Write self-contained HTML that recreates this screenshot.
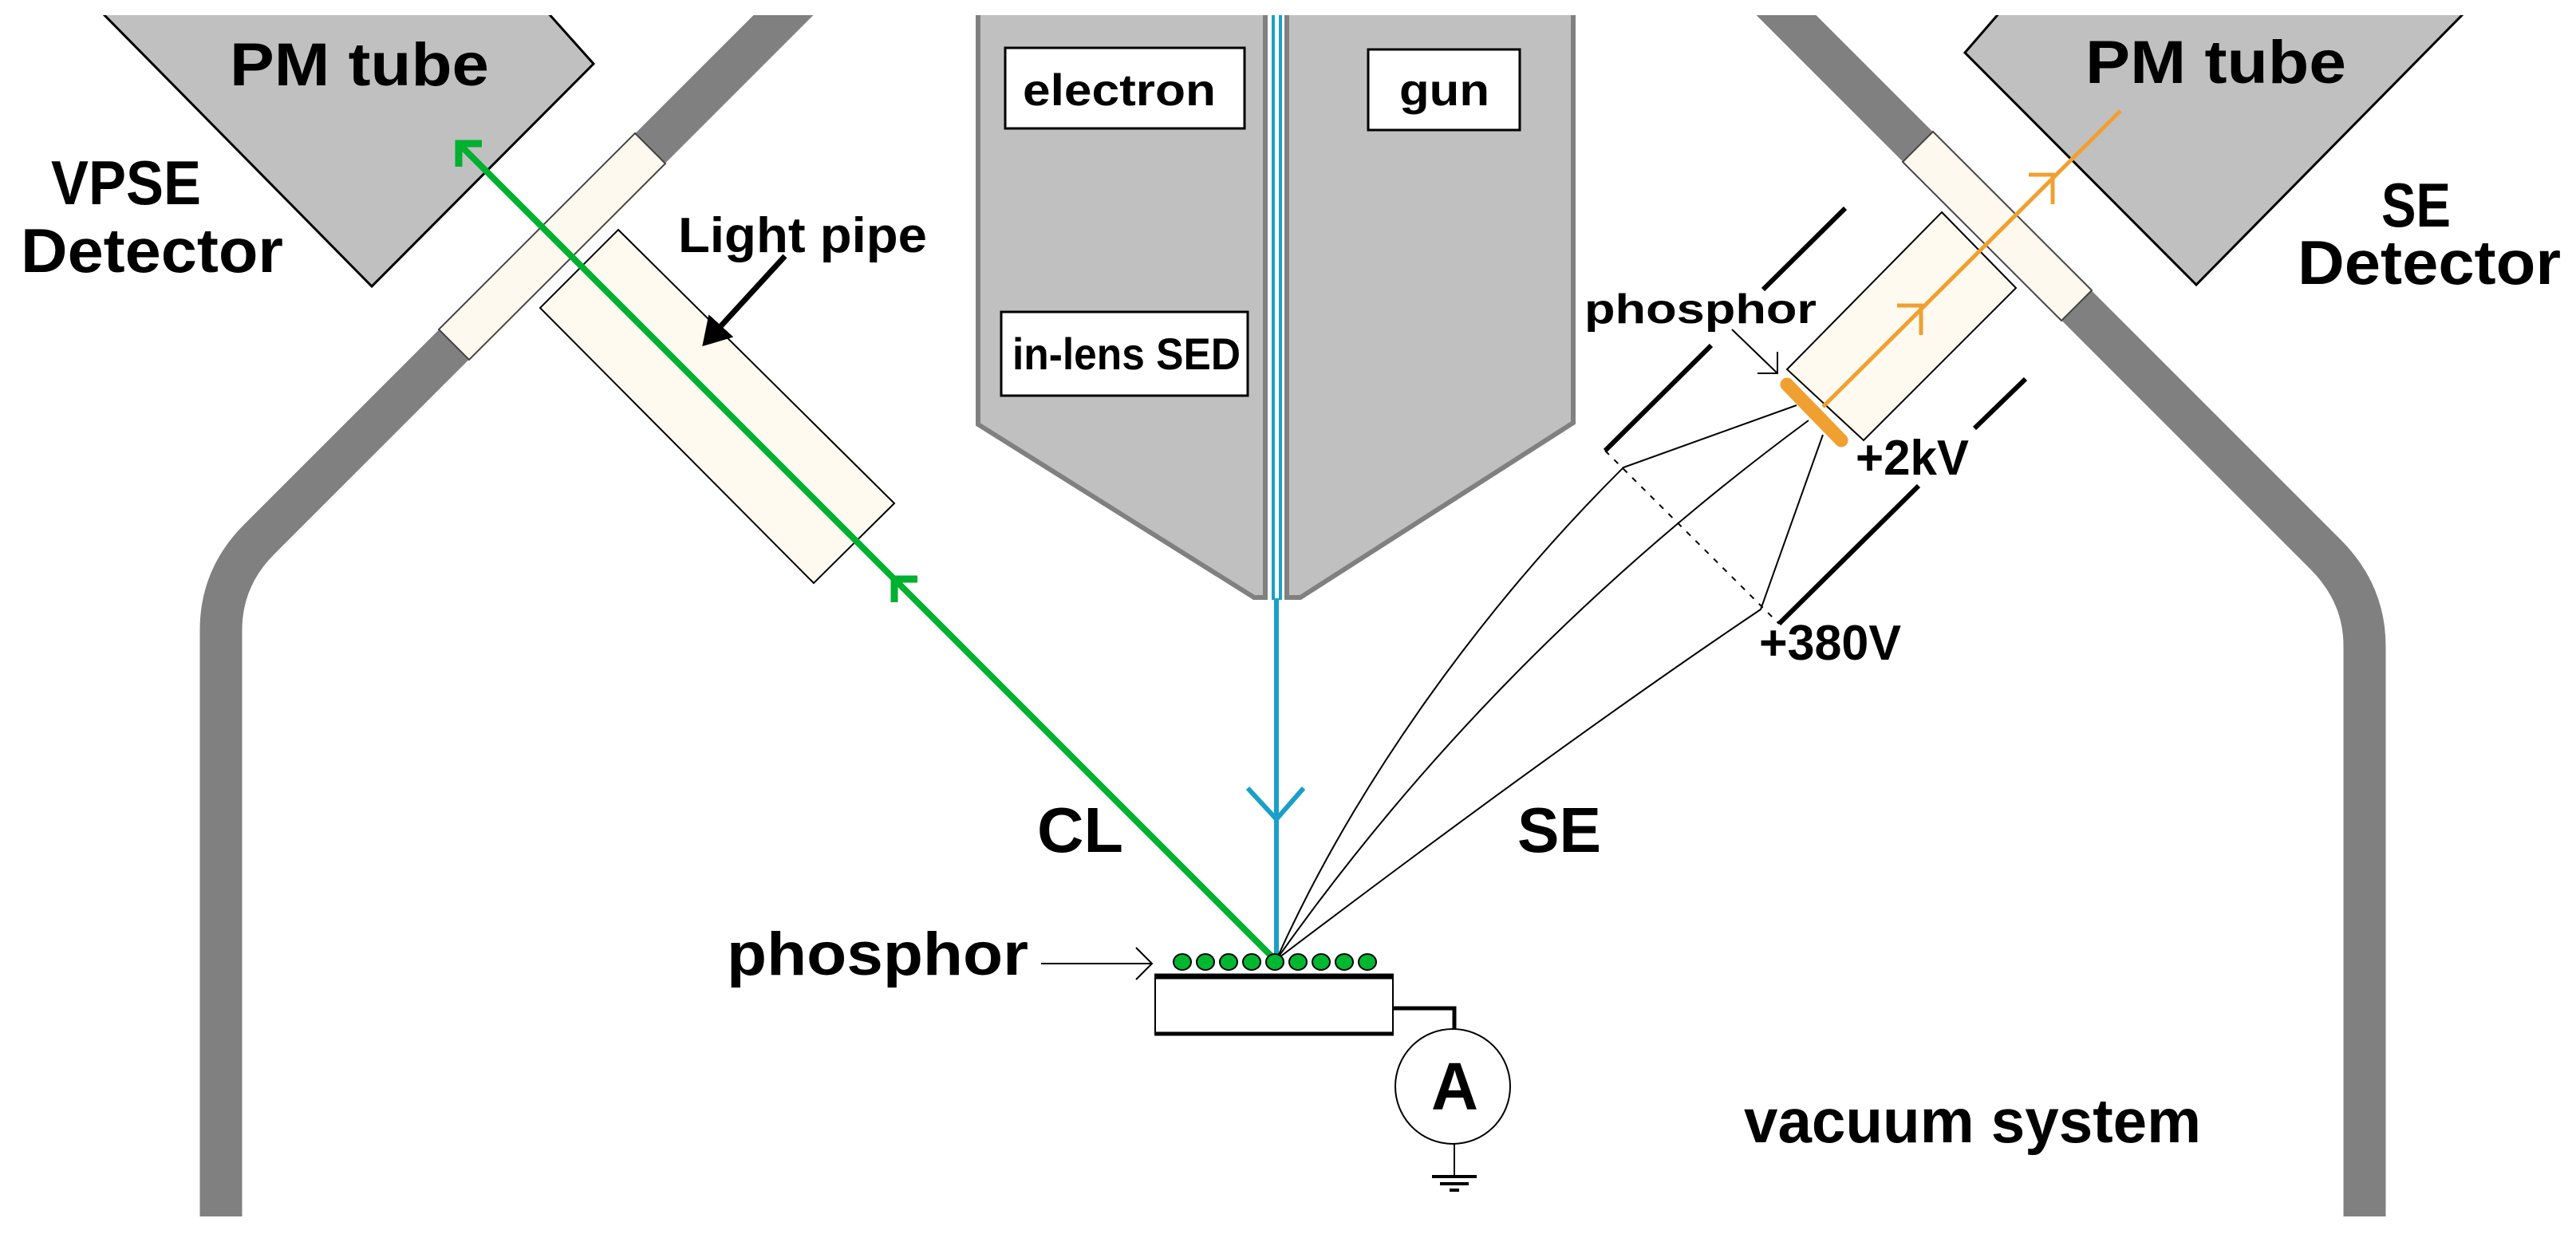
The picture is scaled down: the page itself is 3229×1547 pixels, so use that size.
<!DOCTYPE html>
<html><head><meta charset="utf-8"><style>
html,body{margin:0;padding:0;background:#fff;}
svg{display:block;}
text{font-family:"Liberation Sans",sans-serif;font-weight:bold;fill:#000;}
</style></head><body>
<svg width="3229" height="1547" viewBox="0 0 3229 1547" xmlns="http://www.w3.org/2000/svg">
<defs>
<clipPath id="c"><rect x="0" y="19" width="3229" height="1528"/></clipPath>
<marker id="ah" markerWidth="6" markerHeight="6" refX="4" refY="3" orient="auto" markerUnits="strokeWidth"><path d="M0,0 L5,3 L0,6 z" fill="#000"/></marker>
</defs>
<rect width="3229" height="1547" fill="#fff"/>
<g clip-path="url(#c)">
<path d="M1001,0 L325,676 Q277,724 277,790 L277,1525" fill="none" stroke="#808080" stroke-width="53"/>
<path d="M2220,0 L2915,695 Q2964,744 2964,810 L2964,1525" fill="none" stroke="#808080" stroke-width="53"/>
<polygon points="1226,14 1586,14 1586,749 1572,749 1226,532" fill="#c0c0c0" stroke="#808080" stroke-width="6"/>
<polygon points="1613,14 1972,14 1972,530 1630,749 1613,749" fill="#c0c0c0" stroke="#808080" stroke-width="6"/>
<polygon points="126,14 685,14 744,80 466,359" fill="#c0c0c0" stroke="#000" stroke-width="3"/>
<polygon points="2508,14 3091,14 2753,357 2463,66" fill="#c0c0c0" stroke="#000" stroke-width="3"/>
</g>
<polygon points="796,167 834,205 588,451 550,413" fill="#fdf9ee" stroke="#444" stroke-width="2"/>
<polygon points="2423,165 2385,203 2584,402 2622,364" fill="#fdf9ee" stroke="#444" stroke-width="2"/>
<polygon points="775,288 1121,631 1020,731 677,386" fill="#fffaf0" stroke="#000" stroke-width="2"/>
<polygon points="2434,266 2527,361 2336,552 2240,463" fill="#fffaf0" stroke="#000" stroke-width="2"/>
<rect x="1260" y="60" width="300" height="101" fill="#fff" stroke="#000" stroke-width="3"/>
<rect x="1255" y="391" width="309" height="105" fill="#fff" stroke="#000" stroke-width="3"/>
<rect x="1715" y="62" width="190" height="101" fill="#fff" stroke="#000" stroke-width="3"/>
<text x="1282" y="132" font-size="56" textLength="242" lengthAdjust="spacingAndGlyphs">electron</text>
<text x="1269" y="463" font-size="56" textLength="286" lengthAdjust="spacingAndGlyphs">in-lens SED</text>
<text x="1754" y="132" font-size="56" textLength="113" lengthAdjust="spacingAndGlyphs">gun</text>
<line x1="1596" y1="19" x2="1596" y2="752" stroke="#1aa0c8" stroke-width="4"/>
<line x1="1605" y1="19" x2="1605" y2="752" stroke="#1aa0c8" stroke-width="4"/>
<line x1="1600" y1="750" x2="1600" y2="1203" stroke="#1aa0c8" stroke-width="6"/>
<polyline points="1564,988 1600,1027 1634,988" fill="none" stroke="#1aa0c8" stroke-width="6"/>
<g fill="none" stroke="#000" stroke-width="2">
<path d="M1600,1203 C1700,980 1860,760 2035,586 L2252,508"/>
<path d="M1600,1203 Q1870,820 2267,527"/>
<path d="M1600,1203 Q1960,930 2207,764 L2285,545"/>
<line x1="2012" y1="565" x2="2230" y2="782" stroke-dasharray="7,9"/>
</g>
<g stroke="#000" stroke-width="6">
<line x1="2313" y1="261" x2="2210" y2="363"/>
<line x1="2145" y1="433" x2="2012" y2="565"/>
<line x1="2539" y1="475" x2="2475" y2="537"/>
<line x1="2405" y1="609" x2="2230" y2="782"/>
</g>
<line x1="2285" y1="510" x2="2658" y2="139" stroke="#f0a030" stroke-width="5"/>
<polyline points="2543,219 2573,219 2573,256" fill="none" stroke="#f0a030" stroke-width="5"/>
<polyline points="2378,383 2408,383 2408,420" fill="none" stroke="#f0a030" stroke-width="5"/>
<line x1="2240" y1="482" x2="2308" y2="552" stroke="#f0a030" stroke-width="17" stroke-linecap="round"/>
<g stroke="#000" stroke-width="2" fill="none">
<line x1="2171" y1="413" x2="2228" y2="468"/>
<polyline points="2203,468 2228,468 2228,441"/>
</g>
<line x1="1598" y1="1203" x2="575" y2="180" stroke="#00b030" stroke-width="8"/>
<polyline points="604,180 575,180 575,209" fill="none" stroke="#00b030" stroke-width="9"/>
<polyline points="1150,726 1121,726 1121,755" fill="none" stroke="#00b030" stroke-width="9"/>
<line x1="984" y1="321" x2="885" y2="429" stroke="#000" stroke-width="7" marker-end="url(#ah)"/>
<g fill="#00b830" stroke="#000" stroke-width="2">
<ellipse cx="1482" cy="1206" rx="11" ry="10"/><ellipse cx="1511" cy="1206" rx="11" ry="10"/><ellipse cx="1540" cy="1206" rx="11" ry="10"/><ellipse cx="1569" cy="1206" rx="11" ry="10"/><ellipse cx="1598" cy="1206" rx="11" ry="10"/><ellipse cx="1627" cy="1206" rx="11" ry="10"/><ellipse cx="1656" cy="1206" rx="11" ry="10"/><ellipse cx="1685" cy="1206" rx="11" ry="10"/><ellipse cx="1714" cy="1206" rx="11" ry="10"/>
</g>
<rect x="1448" y="1224" width="298" height="73" fill="#fff" stroke="#000" stroke-width="2"/>
<line x1="1447" y1="1224" x2="1747" y2="1224" stroke="#000" stroke-width="7"/>
<line x1="1447" y1="1296" x2="1747" y2="1296" stroke="#000" stroke-width="5"/>
<polyline points="1746,1264 1823,1264 1823,1290" fill="none" stroke="#000" stroke-width="5"/>
<circle cx="1821" cy="1362" r="72" fill="#fff" stroke="#000" stroke-width="2"/>
<line x1="1823" y1="1434" x2="1823" y2="1474" stroke="#000" stroke-width="2"/>
<line x1="1795" y1="1475" x2="1851" y2="1475" stroke="#000" stroke-width="4"/>
<line x1="1805" y1="1484" x2="1841" y2="1484" stroke="#000" stroke-width="4"/>
<line x1="1817" y1="1492" x2="1829" y2="1492" stroke="#000" stroke-width="4"/>
<g stroke="#000" stroke-width="2" fill="none">
<line x1="1305" y1="1208" x2="1444" y2="1208"/>
<polyline points="1424,1188 1444,1208 1424,1228"/>
</g>
<text x="288" y="107" font-size="76" textLength="325" lengthAdjust="spacingAndGlyphs">PM tube</text>
<text x="64" y="256" font-size="78" textLength="188" lengthAdjust="spacingAndGlyphs">VPSE</text>
<text x="26" y="341" font-size="78" textLength="329" lengthAdjust="spacingAndGlyphs">Detector</text>
<text x="850" y="316" font-size="62" textLength="312" lengthAdjust="spacingAndGlyphs">Light pipe</text>
<text x="2614" y="104" font-size="76" textLength="327" lengthAdjust="spacingAndGlyphs">PM tube</text>
<text x="2985" y="284" font-size="78" textLength="87" lengthAdjust="spacingAndGlyphs">SE</text>
<text x="2880" y="356" font-size="78" textLength="330" lengthAdjust="spacingAndGlyphs">Detector</text>
<text x="1986" y="405" font-size="52" textLength="291" lengthAdjust="spacingAndGlyphs">phosphor</text>
<text x="2326" y="595" font-size="62" textLength="142" lengthAdjust="spacingAndGlyphs">+2kV</text>
<text x="2205" y="827" font-size="62" textLength="178" lengthAdjust="spacingAndGlyphs">+380V</text>
<text x="1300" y="1068" font-size="80" textLength="108" lengthAdjust="spacingAndGlyphs">CL</text>
<text x="1902" y="1068" font-size="80" textLength="105" lengthAdjust="spacingAndGlyphs">SE</text>
<text x="911" y="1222" font-size="76" textLength="378" lengthAdjust="spacingAndGlyphs">phosphor</text>
<text x="1794" y="1391" font-size="84" textLength="59" lengthAdjust="spacingAndGlyphs">A</text>
<text x="2186" y="1432" font-size="78" textLength="573" lengthAdjust="spacingAndGlyphs">vacuum system</text>
</svg>
</body></html>
